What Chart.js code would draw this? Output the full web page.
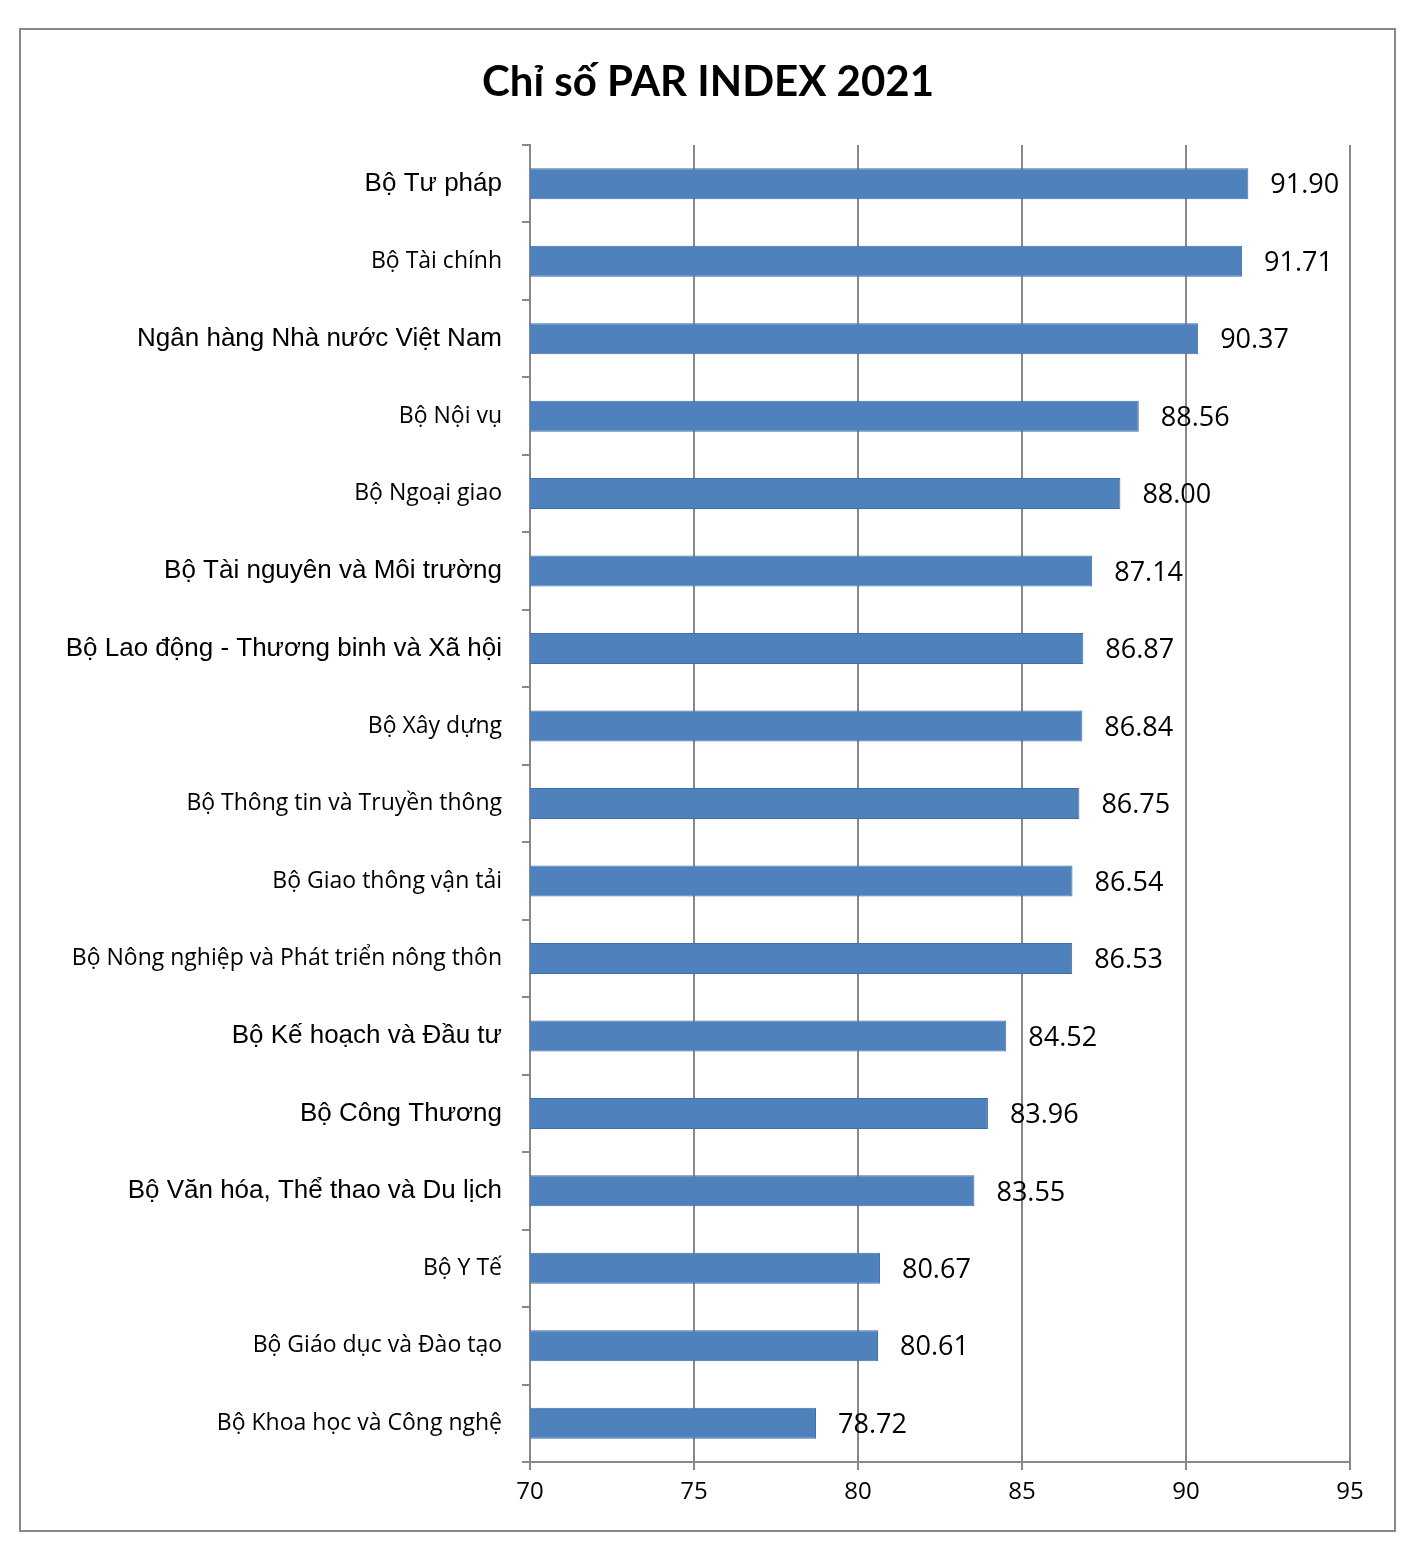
<!DOCTYPE html>
<html><head><meta charset="utf-8">
<script src="https://cdn.jsdelivr.net/npm/chart.js@4"></script>
<style>html,body{margin:0;padding:0;background:#fff}#w{width:1424px;height:1552px}</style>
</head><body><div id="w"><canvas id="c"></canvas></div>
<script>
const categories=["Bộ Tư pháp","Bộ Tài chính","Ngân hàng Nhà nước Việt Nam","Bộ Nội vụ","Bộ Ngoại giao","Bộ Tài nguyên và Môi trường","Bộ Lao động - Thương binh và Xã hội","Bộ Xây dựng","Bộ Thông tin và Truyền thông","Bộ Giao thông vận tải","Bộ Nông nghiệp và Phát triển nông thôn","Bộ Kế hoạch và Đầu tư","Bộ Công Thương","Bộ Văn hóa, Thể thao và Du lịch","Bộ Y Tế","Bộ Giáo dục và Đào tạo","Bộ Khoa học và Công nghệ"];
const values=[91.90,91.71,90.37,88.56,88.00,87.14,86.87,86.84,86.75,86.54,86.53,84.52,83.96,83.55,80.67,80.61,78.72];
const arialLabels=[0,2,5,6,11,12,13];
const xTicks=[70,75,80,85,90,95];
const title="Chỉ số PAR INDEX 2021";
const deco={id:'deco',afterDraw(ch){const c=ch.ctx;c.save();c.strokeStyle='#888';c.lineWidth=2;c.strokeRect(20,29,1375,1502);
c.fillStyle='#000';c.font='bold 42px Lato';c.textAlign='center';c.textBaseline='middle';c.fillText(title,708,82);
const m=ch.getDatasetMeta(0);c.font='27px "Open Sans"';c.textAlign='left';
m.data.forEach((b,i)=>{c.fillText(values[i].toFixed(2),b.x+22,b.y+2);});c.restore();}};
new Chart(document.getElementById('c'),{type:'bar',data:{labels:categories,datasets:[{data:values,backgroundColor:'#4f81bd',borderColor:'#3f6fa8',borderWidth:1,barPercentage:0.4,categoryPercentage:1}]},
options:{indexAxis:'y',responsive:true,maintainAspectRatio:false,animation:false,
layout:{padding:{left:20,right:74,top:145,bottom:0}},
plugins:{legend:{display:false},tooltip:{enabled:false}},
scales:{x:{min:70,max:95,afterBuildTicks(s){s.ticks=xTicks.map(v=>({value:v}));},afterFit(s){s.height=90;},
grid:{color:'#888',lineWidth:2,tickLength:8},border:{color:'#888',width:2},ticks:{color:'#000',font:{size:24,family:'Open Sans'},padding:8}},
y:{afterFit(s){s.width=510;},grid:{offset:true,drawOnChartArea:false,color:'#888',lineWidth:2,tickLength:8},border:{color:'#888',width:2},
ticks:{color:'#000',padding:20,font:(ctx)=>arialLabels.includes(ctx.index)?{size:26,family:'Liberation Sans'}:{size:23,family:'Open Sans'}}}}},
plugins:[deco]});
</script></body></html>
